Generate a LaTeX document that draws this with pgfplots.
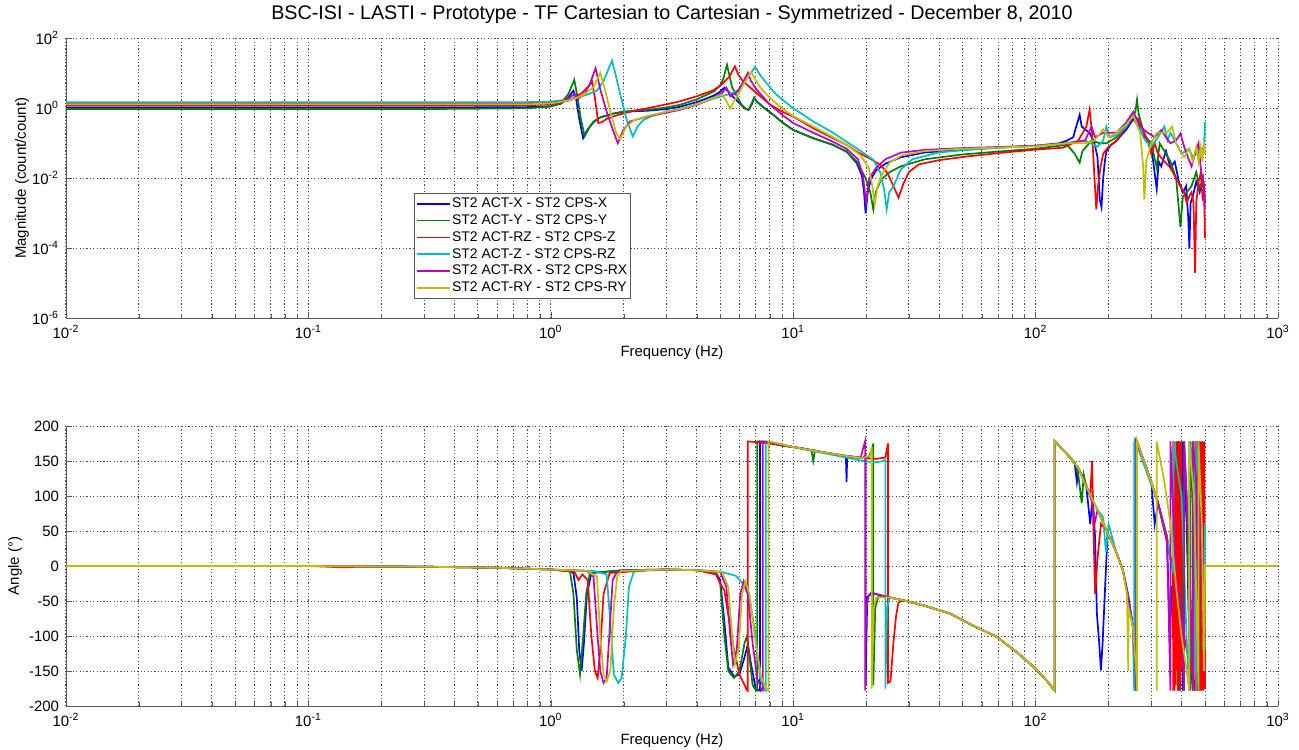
\documentclass[border=0pt]{standalone}
\usepackage{fontspec}
\setmainfont{Liberation Sans}
\usepackage{pgfplots}
\pgfplotsset{compat=1.18}
\definecolor{mblue}{rgb}{0,0,1}
\definecolor{mgreen}{rgb}{0,0.5,0}
\definecolor{mred}{rgb}{1,0,0}
\definecolor{mcyan}{rgb}{0,0.75,0.75}
\definecolor{mmag}{rgb}{0.75,0,0.75}
\definecolor{myel}{rgb}{0.75,0.75,0}
\begin{document}
\begin{tikzpicture}
\path[use as bounding box] (0bp,0bp) rectangle (649.5bp,375bp);
\node[font=\fontsize{9.9}{12}\selectfont] at (336bp,368bp) {BSC-ISI - LASTI - Prototype - TF Cartesian to Cartesian - Symmetrized - December 8, 2010};
% ---------------- magnitude ----------------
\begin{axis}[at={(33bp,215.85bp)}, anchor=south west,
    scale only axis, width=606bp, height=140bp,
    xmode=log, xmin=0.01, xmax=1000,
    xtick={0.01,0.1,1,10,100,1000},
    xticklabels={10\textsuperscript{-2},10\textsuperscript{-1},10\textsuperscript{0},10\textsuperscript{1},10\textsuperscript{2},10\textsuperscript{3}},
    axis x line*=bottom, axis y line*=left,
    axis line style={-,black!65},
    tick align=inside,
    major tick length=3bp, minor tick length=2bp,
    tick style={black!65},
    minor y tick style={draw=none},
    xmajorgrids, xminorgrids, ymajorgrids,
    major grid style={dash pattern=on 0.6bp off 1.1bp, black!70, line width=0.5bp},
    minor grid style={dash pattern=on 0.6bp off 1.1bp, black!70, line width=0.5bp},
    tick label style={font=\fontsize{7.5}{9}\selectfont},
    label style={font=\fontsize{7.5}{9}\selectfont},
    xlabel={Frequency (Hz)},
    xlabel style={at={(axis description cs:0.5,-0.124)}, anchor=center},
  ymode=log, ymin=1e-6, ymax=100,
  ytick={1e-6,1e-4,1e-2,1,100},
  yticklabels={10\textsuperscript{-6},10\textsuperscript{-4},10\textsuperscript{-2},10\textsuperscript{0},10\textsuperscript{2}},
  ylabel={Magnitude (count/count)},
  ylabel style={at={(axis description cs:-0.0363,0.5)}, anchor=center},
  legend cell align=left,
  legend style={at={(axis description cs:0.287,0.4475)}, anchor=north west,
    font=\fontsize{7}{8}\selectfont, draw=black!65, fill=white, inner sep=1bp, row sep=0bp,
    nodes={inner sep=0.6bp, text height=5.6bp, text depth=1.6bp}},
  legend image code/.code={\draw[#1] (0bp,0bp) -- (16.5bp,0bp);},
]
\addplot[mblue, line width=0.85pt] coordinates {(0.01,1.05) (0.3,1.05) (0.8,1.08) (1.0,1.15) (1.1,1.35) (1.18,2.0) (1.24,3.2) (1.27,2.0) (1.31,0.5) (1.36,0.14) (1.42,0.25) (1.5,0.4) (1.6,0.55) (1.8,0.7) (2.0,0.8) (2.5,0.85) (3.0,0.95) (3.4,1.1) (4.0,1.5) (4.7,2.3) (5.0,3.0) (5.2,3.9) (5.4,3.0) (5.7,2.0) (6.0,1.4) (6.3,1.0) (6.55,0.9) (6.75,1.3) (6.9,2.0) (7.07,1.57) (7.5,1.1) (8.28,0.65) (9.0,0.4) (10,0.24) (12.1,0.14) (14.6,0.09) (16.6,0.058) (18.3,0.027) (19.2,0.012) (19.6,0.004) (19.9,0.001) (20.3,0.004) (21,0.01) (22,0.017) (24,0.026) (27.8,0.04) (35,0.055) (50,0.065) (70,0.075) (100,0.085) (125,0.1) (135,0.12) (143,0.15) (148,0.35) (152,0.65) (155,0.3) (160,0.25) (167,0.2) (175,0.1) (180,0.04) (184,0.0025) (187,0.0015) (190,0.01) (193,0.03) (196,0.06) (205,0.09) (216,0.12) (237,0.25) (253,0.5) (270,0.25) (285,0.12) (300,0.08) (316,0.005) (322,0.03) (330,0.022) (345,0.06) (360,0.02) (375,0.03) (390,0.008) (405,0.004) (418,0.006) (426,0.0008) (431,1e-4) (436,0.002) (445,0.003) (460,0.008) (475,0.004) (490,0.01) (500,0.002)};
\addplot[mgreen, line width=0.85pt] coordinates {(0.01,0.95) (0.3,0.95) (0.8,1.0) (1.0,1.12) (1.1,1.4) (1.18,2.5) (1.25,6.5) (1.29,2.0) (1.33,0.5) (1.38,0.16) (1.44,0.28) (1.5,0.42) (1.6,0.55) (1.8,0.7) (2.0,0.8) (2.5,0.9) (3.0,1.05) (3.4,1.25) (4.0,1.8) (4.7,3.0) (5.0,4.5) (5.15,7) (5.33,17.5) (5.45,9) (5.6,4) (5.8,2.5) (6.1,1.3) (6.4,0.95) (6.55,0.9) (6.75,1.4) (6.9,2.0) (7.07,1.57) (7.5,1.1) (8.28,0.65) (9.0,0.4) (10,0.24) (12.1,0.14) (14.6,0.09) (16.6,0.058) (18.3,0.03) (19.9,0.01) (20.8,0.004) (21.4,0.0013) (21.9,0.004) (23,0.009) (25,0.015) (27.8,0.022) (35,0.035) (50,0.048) (70,0.058) (100,0.07) (125,0.085) (135,0.09) (145,0.05) (152,0.028) (156,0.06) (162,0.08) (170,0.12) (184,0.1) (196,0.1) (216,0.15) (237,0.35) (253,0.6) (258,0.8) (262,1.75) (266,0.7) (275,0.3) (285,0.15) (300,0.1) (316,0.02) (325,0.1) (340,0.06) (360,0.03) (380,0.01) (396,4e-4) (405,0.003) (420,0.004) (440,0.006) (460,0.015) (475,0.005) (490,0.01) (500,0.003)};
\addplot[mred, line width=0.85pt] coordinates {(0.01,1.2) (0.3,1.2) (0.8,1.22) (1.0,1.3) (1.2,1.7) (1.35,2.8) (1.44,4.5) (1.48,5.8) (1.52,2.0) (1.57,0.38) (1.62,0.4) (1.7,0.5) (1.9,0.65) (2.2,0.85) (2.5,1.0) (3.0,1.3) (3.4,1.57) (4.0,2.2) (4.7,3.3) (5.1,5.0) (5.45,8) (5.75,15.7) (5.95,9) (6.2,6) (6.5,4.5) (7.07,2.7) (8.0,1.3) (9.0,0.8) (10,0.58) (12.1,0.27) (14.6,0.14) (16.6,0.09) (18.5,0.055) (20.7,0.037) (22.9,0.024) (24.5,0.014) (25.9,0.006) (27.2,0.0028) (28.5,0.007) (30,0.015) (33,0.025) (40,0.033) (52,0.042) (75,0.055) (100,0.066) (130,0.075) (150,0.12) (162,0.3) (167,0.91) (171,0.2) (174,0.02) (178,0.0013) (181,0.006) (185,0.02) (190,0.05) (200,0.08) (216,0.12) (237,0.3) (253,0.6) (265,0.5) (280,0.2) (290,0.12) (300,0.05) (310,0.1) (320,0.05) (340,0.03) (360,0.02) (380,0.01) (395,0.006) (410,0.004) (420,0.002) (430,0.003) (440,0.004) (448,0.002) (455,2e-5) (460,0.002) (470,0.008) (480,0.014) (488,0.003) (495,0.005) (500,0.0002)};
\addplot[mcyan, line width=0.85pt] coordinates {(0.01,1.5) (0.3,1.5) (0.8,1.5) (1.0,1.55) (1.2,1.8) (1.4,2.4) (1.55,3.2) (1.65,6) (1.72,12) (1.79,23) (1.86,8) (1.95,2.0) (2.05,0.5) (2.18,0.156) (2.28,0.3) (2.4,0.45) (2.6,0.6) (3.0,0.8) (3.4,0.95) (4.0,1.3) (4.7,1.9) (5.2,2.3) (5.6,2.7) (6.0,3.5) (6.3,5.5) (6.6,9) (6.97,15.3) (7.3,9) (7.77,5.2) (8.5,2.5) (10,1.0) (12.1,0.42) (14.6,0.2) (16.6,0.11) (19,0.06) (21.4,0.034) (22.9,0.0143) (23.7,0.005) (24.3,0.0013) (24.9,0.004) (25.9,0.0058) (27.8,0.018) (31,0.035) (40,0.055) (60,0.07) (100,0.085) (134,0.1) (160,0.12) (180,0.08) (190,0.12) (196,0.3) (202,0.15) (216,0.17) (237,0.3) (253,0.7) (265,0.4) (278,0.15) (290,0.1) (300,0.08) (320,0.15) (340,0.3) (350,0.12) (360,0.2) (380,0.1) (400,0.05) (415,0.06) (430,0.07) (445,0.04) (460,0.05) (480,0.06) (495,0.08) (500,0.4)};
\addplot[mmag, line width=0.85pt] coordinates {(0.01,1.35) (0.3,1.35) (0.8,1.36) (1.0,1.4) (1.15,1.7) (1.25,2.5) (1.3,1.9) (1.38,2.6) (1.45,5) (1.53,14) (1.6,3.5) (1.7,0.8) (1.8,0.25) (1.89,0.10) (1.98,0.22) (2.12,0.42) (2.5,0.58) (3.0,0.75) (3.4,0.9) (4.0,1.25) (4.7,2.0) (5.1,2.8) (5.3,3.9) (5.5,2.2) (5.9,3.0) (6.2,5.5) (6.5,10.3) (6.7,6) (7.07,3.4) (8.0,1.3) (9,0.65) (10,0.38) (12.1,0.2) (14.6,0.11) (16.6,0.07) (18.5,0.035) (19.4,0.012) (20,0.002) (20.6,0.01) (22,0.02) (24,0.035) (27.8,0.054) (35,0.065) (50,0.073) (100,0.085) (134,0.1) (160,0.12) (170,0.3) (176,0.15) (190,0.2) (216,0.2) (237,0.4) (253,0.8) (270,0.3) (290,0.2) (310,0.15) (330,0.24) (345,0.15) (360,0.1) (380,0.12) (396,0.19) (410,0.08) (425,0.04) (440,0.022) (455,0.05) (470,0.1) (480,0.02) (490,0.008) (500,0.0013)};
\addplot[myel, line width=0.85pt] coordinates {(0.01,1.3) (0.3,1.3) (0.8,1.3) (1.0,1.38) (1.2,1.7) (1.35,2.3) (1.5,4) (1.6,10.3) (1.68,3.0) (1.78,0.6) (1.86,0.2) (1.93,0.13) (2.05,0.3) (2.2,0.45) (2.5,0.6) (3.0,0.8) (3.4,0.95) (4.0,1.3) (4.7,2.0) (5.1,2.5) (5.3,1.6) (5.5,1.0) (5.7,1.6) (5.95,2.6) (6.3,5.5) (6.7,11) (7.0,6.5) (7.3,4.0) (8.0,2.0) (9,1.0) (10,0.6) (12.1,0.3) (14.6,0.15) (16.6,0.09) (19,0.045) (20.5,0.02) (21.2,0.006) (21.7,0.0018) (22.3,0.006) (23.5,0.015) (25,0.028) (28,0.045) (35,0.06) (50,0.07) (100,0.082) (134,0.1) (160,0.1) (175,0.12) (190,0.25) (200,0.15) (216,0.2) (237,0.35) (253,0.6) (270,0.2) (278,0.02) (281,0.0025) (286,0.03) (300,0.1) (316,0.2) (347,0.2) (366,0.3) (380,0.1) (395,0.06) (410,0.04) (430,0.07) (445,0.03) (460,0.08) (470,0.03) (480,0.08) (488,0.03) (495,0.1) (500,0.05)};
\legend{ST2 ACT-X - ST2 CPS-X, ST2 ACT-Y - ST2 CPS-Y, ST2 ACT-RZ - ST2 CPS-Z, ST2 ACT-Z - ST2 CPS-RZ, ST2 ACT-RX - ST2 CPS-RX, ST2 ACT-RY - ST2 CPS-RY}
\end{axis}
% ---------------- phase ----------------
\begin{axis}[at={(33bp,22bp)}, anchor=south west,
    scale only axis, width=606bp, height=140bp,
    xmode=log, xmin=0.01, xmax=1000,
    xtick={0.01,0.1,1,10,100,1000},
    xticklabels={10\textsuperscript{-2},10\textsuperscript{-1},10\textsuperscript{0},10\textsuperscript{1},10\textsuperscript{2},10\textsuperscript{3}},
    axis x line*=bottom, axis y line*=left,
    axis line style={-,black!65},
    tick align=inside,
    major tick length=3bp, minor tick length=2bp,
    tick style={black!65},
    xmajorgrids, xminorgrids, ymajorgrids,
    major grid style={dash pattern=on 0.6bp off 1.1bp, black!70, line width=0.5bp},
    minor grid style={dash pattern=on 0.6bp off 1.1bp, black!70, line width=0.5bp},
    tick label style={font=\fontsize{7.5}{9}\selectfont},
    label style={font=\fontsize{7.5}{9}\selectfont},
    /pgf/number format/assume math mode=true,
    xlabel={Frequency (Hz)},
    xlabel style={at={(axis description cs:0.5,-0.125)}, anchor=center},
  ymin=-200, ymax=200, ytick={-200,-150,...,200},
  ylabel={Angle (°)},
  ylabel style={at={(axis description cs:-0.042,0.5)}, anchor=center},
]
\addplot[mblue, line width=0.85pt] coordinates {(0.01,0) (0.1,0) (0.3,-1) (0.6,-2.5) (1.0,-5) (1.2,-7) (1.24,-10) (1.28,-45) (1.31,-120) (1.34,-150) (1.37,-110) (1.41,-40) (1.47,-10) (2.0,-6) (3.0,-5) (4.0,-6) (4.8,-10) (5.0,-20) (5.2,-80) (5.4,-145) (5.7,-158) (6.0,-155) (6.3,-130) (6.5,-112) (6.7,-140) (7.0,-175) (7.3,-178) (7.3,178) (7.8,177) (9.0,172) (10,170) (11,168) (13,163) (16.5,157) (16.6,120) (16.7,157) (19.4,154) (19.9,158) (19.9,-170) (20.2,-45) (21,-38) (23,-42) (25,-45) (28.5,-49) (35,-57) (44.4,-68) (55,-85) (69,-101) (85,-125) (98,-144) (110,-162) (118,-175) (120,-178) (120,178) (134,161) (145,146) (148,120) (150,140) (158,125) (162,113) (168,60) (172,100) (176,40) (179,-68) (183,-110) (186,-149) (189,-110) (193,-40) (198,45) (205,38) (215,20) (229,-6) (240,-40) (252,-87) (256,-150) (258,-178) (258,178) (280,150) (300,120) (310,60) (320,90) (348,42) (358,-100) (365,-30) (380,-20) (385,-40) (385,178) (395,120) (405,-178) (405,178) (420,60) (430,-100) (440,-150) (445,-178) (445,178) (460,100) (470,-178) (470,178) (485,50) (495,-170) (500,-175)};
\addplot[mgreen, line width=0.85pt] coordinates {(0.01,0) (0.1,0) (0.3,-1) (0.6,-2.5) (1.0,-5) (1.2,-8) (1.24,-40) (1.28,-120) (1.32,-155) (1.36,-100) (1.4,-40) (1.45,-10) (2.0,-6) (3.0,-5) (4.0,-6) (4.8,-10) (5.0,-25) (5.2,-100) (5.4,-150) (5.7,-160) (6.0,-150) (6.3,-110) (6.45,-100) (6.6,-130) (6.8,-170) (7.0,-177) (7.1,-178) (7.1,178) (7.8,177) (9,172) (10,170) (11.9,165) (12.1,150) (12.3,165) (13,163) (16,158) (19.4,154) (20.5,156) (21.2,168) (21.4,175) (21.4,-170) (21.8,-60) (22.5,-42) (25,-45) (28.5,-49) (35,-57) (44.4,-68) (55,-85) (69,-101) (85,-125) (98,-144) (110,-162) (118,-175) (120,-178) (120,178) (134,161) (145,148) (150,130) (155,90) (158,130) (162,113) (180,80) (196,51) (215,20) (229,-6) (240,-40) (252,-87) (258,-140) (262,-178) (262,178) (280,150) (300,120) (320,90) (335,60) (348,42) (370,-10) (380,-30) (390,-178) (390,178) (400,120) (410,-178) (410,178) (420,100) (435,-178) (435,178) (450,50) (465,-178) (465,178) (480,100) (490,-160) (500,-170)};
\addplot[mred, line width=0.85pt] coordinates {(0.01,0) (0.1,0) (0.12,-1) (0.14,-2) (0.16,-1) (0.3,-1) (0.6,-2.5) (1.0,-5) (1.25,-8) (1.3,-20) (1.35,-12) (1.42,-20) (1.47,-100) (1.52,-150) (1.56,-160) (1.6,-120) (1.65,-40) (1.75,-10) (2.5,-6) (3.0,-5) (4.0,-6) (4.8,-12) (5.0,-25) (5.2,-35) (5.4,-70) (5.7,-120) (6.0,-155) (6.3,-170) (6.43,-177) (6.49,-178) (6.49,178) (7.0,177) (8,175) (10,170) (13,163) (16,158) (19.4,154) (22,153) (24,155) (24.6,175) (24.6,-167) (25.2,-165) (25.9,-110) (26.6,-70) (27.2,-52) (28.5,-49) (35,-57) (44.4,-68) (55,-85) (69,-101) (85,-125) (98,-144) (110,-162) (118,-175) (120,-178) (120,178) (134,161) (150,140) (162,115) (168,100) (171,150) (173,60) (176,-40) (180,10) (186,60) (196,51) (215,20) (229,-6) (240,-40) (252,-87) (258,-150) (262,-178) (262,178) (280,150) (300,120) (320,90) (345,40) (360,10) (368,0) (370,-178) (370,178) (374,-178) (374,178) (378,-170) (382,178) (386,-178) (390,178) (394,-178) (398,178) (400,-150) (410,-100) (420,-120) (440,-150) (455,-178) (455,178) (460,-178) (464,178) (468,-178) (472,178) (476,-178) (480,178) (484,-178) (488,178) (492,-178) (496,178) (500,-175)};
\addplot[mcyan, line width=0.85pt] coordinates {(0.01,0) (0.1,0) (0.3,-1) (0.6,-2.5) (1.0,-5) (1.5,-7) (1.7,-12) (1.76,-80) (1.82,-155) (1.9,-167) (1.96,-160) (2.04,-100) (2.1,-30) (2.2,-8) (2.5,-6) (3.0,-5) (4.0,-5.5) (5.0,-8) (5.8,-14) (6.2,-25) (6.6,-45) (7.0,-100) (7.3,-160) (7.6,-177) (7.7,-178) (7.7,178) (8,177) (10,170) (13,162) (16,156) (19.4,150) (22,148) (23.5,150) (24,152) (24,-175) (24.4,-60) (25,-45) (28.5,-49) (35,-57) (44.4,-68) (55,-85) (69,-101) (85,-125) (98,-144) (110,-162) (118,-175) (120,-178) (120,178) (134,161) (150,140) (162,113) (180,80) (190,70) (195,20) (200,60) (215,20) (229,-6) (240,-40) (252,-87) (254,-150) (255,-178) (255,178) (257,-178) (257,178) (270,160) (290,130) (320,90) (348,42) (368,-10) (372,178) (380,150) (400,100) (420,-106) (430,-178) (430,178) (450,140) (460,-178) (460,178) (480,100) (490,-120) (500,60)};
\addplot[mmag, line width=0.85pt] coordinates {(0.01,0) (0.1,0) (0.3,-1) (0.6,-2.5) (1.0,-5) (1.4,-7) (1.5,-15) (1.56,-100) (1.6,-150) (1.65,-167) (1.7,-160) (1.75,-90) (1.8,-20) (1.88,-8) (3,-5) (4,-6) (5.0,-9) (5.3,-30) (5.5,-100) (5.65,-140) (5.85,-120) (6.05,-40) (6.25,-22) (6.5,-40) (6.8,-110) (7.1,-160) (7.4,-177) (7.5,-178) (7.5,178) (8,177) (10,170) (13,163) (16,158) (19.0,155) (19.5,170) (19.8,178) (19.8,-178) (20.0,-60) (20.5,-42) (22,-40) (25,-45) (28.5,-49) (35,-57) (44.4,-68) (55,-85) (69,-101) (85,-125) (98,-144) (110,-162) (118,-175) (120,-178) (120,178) (134,161) (150,140) (162,113) (170,95) (175,60) (180,80) (196,51) (215,20) (229,-6) (240,-40) (252,-87) (258,-150) (260,-178) (260,178) (280,150) (300,120) (320,90) (348,42) (360,-178) (360,178) (380,-20) (400,-60) (410,-178) (410,178) (430,20) (445,-178) (445,178) (460,120) (470,-178) (470,178) (490,-90) (500,-150)};
\addplot[myel, line width=0.85pt] coordinates {(0.01,0) (0.1,0) (0.3,-1) (0.6,-2.5) (1.0,-5) (1.4,-7) (1.55,-15) (1.6,-100) (1.65,-155) (1.7,-165) (1.76,-150) (1.82,-60) (1.88,-15) (1.95,-7) (3,-5) (4,-6) (5.1,-9) (5.4,-30) (5.6,-100) (5.75,-140) (5.95,-120) (6.15,-40) (6.35,-22) (6.6,-40) (7.0,-110) (7.4,-160) (7.8,-177) (7.9,-178) (7.9,178) (8.2,177) (10,170) (13,163) (16,158) (19.4,154) (20.8,158) (21.1,170) (21.1,-175) (21.5,-60) (22,-45) (25,-45) (28.5,-49) (35,-57) (44.4,-68) (55,-85) (69,-101) (85,-125) (98,-144) (110,-162) (118,-175) (120,-178) (120,178) (134,161) (150,140) (162,113) (180,80) (196,51) (215,20) (229,-6) (238,-40) (240,-100) (241,-150) (242,-60) (252,-87) (260,-150) (262,-178) (262,178) (280,150) (300,120) (316,95) (316,-178) (316,178) (340,120) (360,60) (380,-30) (400,-100) (420,-150) (430,-178) (430,178) (450,100) (470,-178) (470,178) (485,60) (495,-150) (500,0) (1000,0)};
\end{axis}
\end{tikzpicture}
\end{document}
